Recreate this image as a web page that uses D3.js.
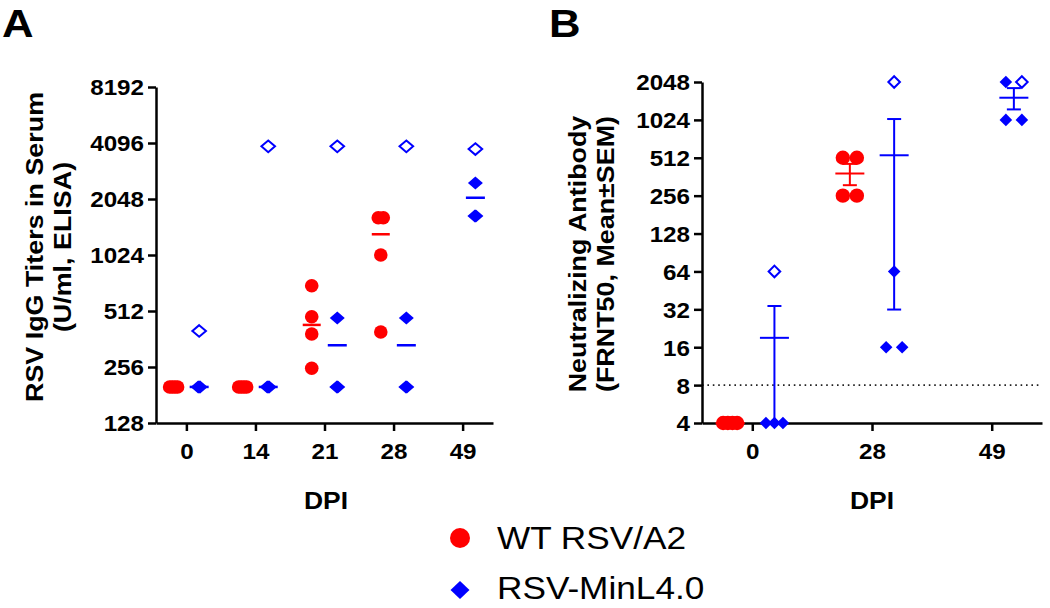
<!DOCTYPE html>
<html>
<head>
<meta charset="utf-8">
<script src="https://cdn.jsdelivr.net/npm/d3@7/dist/d3.min.js"></script>
<style>
  html, body { margin: 0; padding: 0; background: #fff; }
  svg { display: block; }
  text { font-family: "Liberation Sans", Arial, Helvetica, sans-serif; fill: #000; }
</style>
</head>
<body>
<svg id="chart" width="1050" height="608"></svg>
<script>
// ---------------- data ----------------
// Panel A: RSV IgG titers (U/ml, ELISA), individual animals
const dpiA = ["0", "14", "21", "28", "49"];
const igWT = [[200, 200, 200, 200], [200, 200, 200, 200], [700, 477, 385, 252], [1623, 1623, 1024, 395], []];
const igMinFilled = [[200, 200, 200], [200, 200, 200], [470, 200, 200], [470, 200, 200], [2500, 1660, 1660]];
const igMinOpen = [400, 3930, 3930, 3930, 3800];
const ticksA = [128, 256, 512, 1024, 2048, 4096, 8192];

// Panel B: Neutralizing antibody (FRNT50), individual animals
const dpiB = ["0", "28", "49"];
const nabWT = [[4, 4, 4, 4], [512, 512, 256, 256], []];
const nabMinFilled = [[4, 4, 4], [64, 16, 16], [2048, 1024, 1024]];
const nabMinOpen = [64, 2048, 2048];
const ticksB = [4, 8, 16, 32, 64, 128, 256, 512, 1024, 2048];
const limitB = 8;

const seriesNames = ["WT RSV/A2", "RSV-MinL4.0"];
const RED = "#ff0000", BLUE = "#0000ff";

// ---------------- helpers ----------------
const svg = d3.select("#chart");
const SX = 1.1;            // horizontal stretch of bold labels
const TICK_FS = 22;
const median = a => d3.median(a);
const mean = a => d3.mean(a);
const sem = a => a.length > 1 ? d3.deviation(a) / Math.sqrt(a.length) : 0;
const diamond = (w, h) => `M0,${-h}L${w},0L0,${h}L${-w},0Z`;

function styleAxis(g, fontSize) {
  g.select(".domain").attr("stroke", "#000").attr("stroke-width", 2.5);
  g.selectAll(".tick line").attr("stroke", "#000").attr("stroke-width", 2.5);
  g.selectAll(".tick text").attr("font-size", fontSize).attr("font-weight", "bold").attr("fill", "#000");
}

function yTitle(cx, cy, lines, gap) {
  lines.forEach((t, i) => {
    svg.append("g")
      .attr("transform", `translate(${cx + i * gap},${cy}) rotate(-90)`)
      .append("text")
      .attr("transform", `scale(1.12,1)`)
      .attr("text-anchor", "middle")
      .attr("font-size", 24).attr("font-weight", "bold")
      .text(t);
  });
}

function label(x, y, t, size, sx, weight) {
  svg.append("g").attr("transform", `translate(${x},${y})`)
    .append("text").attr("transform", `scale(${sx},1)`)
    .attr("text-anchor", "middle")
    .attr("font-size", size).attr("font-weight", weight || "bold").text(t);
}

// spread points with identical values side by side
function spread(points, cx, maxStep, maxSpan) {
  const groups = d3.group(points, p => p.v);
  const out = [];
  for (const [v, arr] of groups) {
    const n = arr.length;
    const step = n > 1 ? Math.min(maxStep, maxSpan / (n - 1)) : 0;
    arr.forEach((p, i) => out.push({ ...p, x: cx + (i - (n - 1) / 2) * step }));
  }
  return out;
}

function drawPoints(layer, pts, y, opt) {
  pts.forEach(p => {
    if (p.kind === "circle") {
      layer.append("circle").attr("cx", p.x).attr("cy", y(p.v)).attr("r", opt.r).attr("fill", RED);
    } else if (p.kind === "diamond") {
      layer.append("path").attr("d", diamond(opt.dw, opt.dh))
        .attr("transform", `translate(${p.x},${y(p.v)})`).attr("fill", BLUE);
    } else {
      layer.append("path").attr("d", diamond(opt.ow, opt.oh))
        .attr("transform", `translate(${p.x},${y(p.v)})`)
        .attr("fill", "#fff").attr("stroke", BLUE).attr("stroke-width", 2);
    }
  });
}

// ---------------- Panel A ----------------
const yA = d3.scaleLog().base(2).domain([128, 8192]).range([423, 87]);
const xA = d3.scalePoint().domain(dpiA).range([156, 493]).padding(0.44);
const offA = xA.step() * 0.185;

const gAy = svg.append("g").attr("transform", `translate(156,0)`)
  .call(d3.axisLeft(yA).tickValues(ticksA).tickFormat(d3.format("d")).tickSize(8).tickSizeOuter(0));
styleAxis(gAy, TICK_FS);
gAy.selectAll(".tick text").attr("x", -12 / SX).attr("dy", "0.36em").attr("transform", `scale(${SX},1)`);

const gAx = svg.append("g").attr("transform", `translate(0,423)`)
  .call(d3.axisBottom(xA).tickSize(8).tickSizeOuter(0));
styleAxis(gAx, TICK_FS);
gAx.selectAll(".tick text").attr("y", 36).attr("dy", 0).attr("transform", `scale(${SX},1)`);

const layerA = svg.append("g");
const medLayerA = svg.append("g");
dpiA.forEach((d, i) => {
  const cx = xA(d);
  // WT
  if (igWT[i].length) {
    const m = median(igWT[i]);
    medLayerA.append("line").attr("x1", cx - offA - 9).attr("x2", cx - offA + 9)
      .attr("y1", yA(m)).attr("y2", yA(m)).attr("stroke", RED).attr("stroke-width", 2.5);
    const pts = spread(igWT[i].map(v => ({ v, kind: "circle" })), cx - offA, 5, 8);
    drawPoints(layerA, pts, yA, { r: 6.8 });
  }
  // MinL4.0
  const all = igMinFilled[i].concat([igMinOpen[i]]);
  const m2 = median(all);
  medLayerA.append("line").attr("x1", cx + offA - 9.5).attr("x2", cx + offA + 9.5)
    .attr("y1", yA(m2)).attr("y2", yA(m2)).attr("stroke", BLUE).attr("stroke-width", 2.5);
  const pts2 = spread(igMinFilled[i].map(v => ({ v, kind: "diamond" }))
    .concat([{ v: igMinOpen[i], kind: "open" }]), cx + offA, 1, 2);
  drawPoints(layerA, pts2, yA, { dw: 7.5, dh: 6.5, ow: 6.8, oh: 5.8 });
});
medLayerA.raise();

yTitle(43, 247, ["RSV IgG Titers in Serum", "(U/ml,  ELISA)"], 28);
label(326, 509, "DPI", 23, 1.15);
svg.append("g").attr("transform", "translate(2,37)").append("text")
  .attr("transform", "scale(1.15,1)").attr("font-size", 38).attr("font-weight", "bold").text("A");

// ---------------- Panel B ----------------
const yB = d3.scaleLog().base(2).domain([4, 2048]).range([423, 82]);
const xB = d3.scalePoint().domain(dpiB).range([702, 1042]).padding(0.42);
const offB = xB.step() * 0.185;

// limit of detection (dotted)
svg.append("line").attr("x1", 702).attr("x2", 1042).attr("y1", yB(limitB)).attr("y2", yB(limitB))
  .attr("stroke", "#222").attr("stroke-width", 1.6).attr("stroke-dasharray", "1.6,3.8");

const gBy = svg.append("g").attr("transform", `translate(702,0)`)
  .call(d3.axisLeft(yB).tickValues(ticksB).tickFormat(d3.format("d")).tickSize(8).tickSizeOuter(0));
styleAxis(gBy, TICK_FS);
gBy.selectAll(".tick text").attr("x", -12 / SX).attr("dy", "0.36em").attr("transform", `scale(${SX},1)`);

const gBx = svg.append("g").attr("transform", `translate(0,423)`)
  .call(d3.axisBottom(xB).tickSize(8).tickSizeOuter(0));
styleAxis(gBx, TICK_FS);
gBx.selectAll(".tick text").attr("y", 36).attr("dy", 0).attr("transform", `scale(${SX},1)`);

const barLayerB = svg.append("g");
const layerB = svg.append("g");
function errBar(cx, vals, color) {
  const m = mean(vals), s = sem(vals);
  const g = barLayerB.append("g").attr("stroke", color).attr("stroke-width", 2).attr("fill", "none");
  g.append("line").attr("x1", cx - 14.5).attr("x2", cx + 14.5).attr("y1", yB(m)).attr("y2", yB(m));
  if (s > 0) {
    g.append("line").attr("x1", cx).attr("x2", cx).attr("y1", yB(m - s)).attr("y2", yB(m + s));
    g.append("line").attr("x1", cx - 7).attr("x2", cx + 7).attr("y1", yB(m + s)).attr("y2", yB(m + s));
    g.append("line").attr("x1", cx - 7).attr("x2", cx + 7).attr("y1", yB(m - s)).attr("y2", yB(m - s));
  }
}
dpiB.forEach((d, i) => {
  const cx = xB(d);
  if (nabWT[i].length) {
    errBar(cx - offB, nabWT[i], RED);
    const pts = spread(nabWT[i].map(v => ({ v, kind: "circle" })), cx - offB, 15, 14);
    drawPoints(layerB, pts, yB, { r: 7.2 });
  }
  const all = nabMinFilled[i].concat([nabMinOpen[i]]);
  errBar(cx + offB, all, BLUE);
  const pts2 = spread(nabMinFilled[i].map(v => ({ v, kind: "diamond" }))
    .concat([{ v: nabMinOpen[i], kind: "open" }]), cx + offB, 16, 17);
  drawPoints(layerB, pts2, yB, { dw: 6.3, dh: 6.3, ow: 5.8, oh: 5.8 });
});
barLayerB.raise();

yTitle(586, 254, ["Neutralizing Antibody", "(FRNT50, Mean\u00B1SEM)"], 28);
label(872, 509, "DPI", 23, 1.15);
svg.append("g").attr("transform", "translate(549,37)").append("text")
  .attr("transform", "scale(1.15,1)").attr("font-size", 38).attr("font-weight", "bold").text("B");

// ---------------- Legend ----------------
const leg = svg.append("g");
leg.append("circle").attr("cx", 460).attr("cy", 538).attr("r", 10).attr("fill", RED);
leg.append("path").attr("d", diamond(9.5, 9)).attr("transform", "translate(460,590)").attr("fill", BLUE);
seriesNames.forEach((t, i) => {
  leg.append("g").attr("transform", `translate(497,${549 + i * 50})`)
    .append("text").attr("transform", "scale(1.1,1)")
    .attr("font-size", 32).text(t);
});
</script>
</body>
</html>
